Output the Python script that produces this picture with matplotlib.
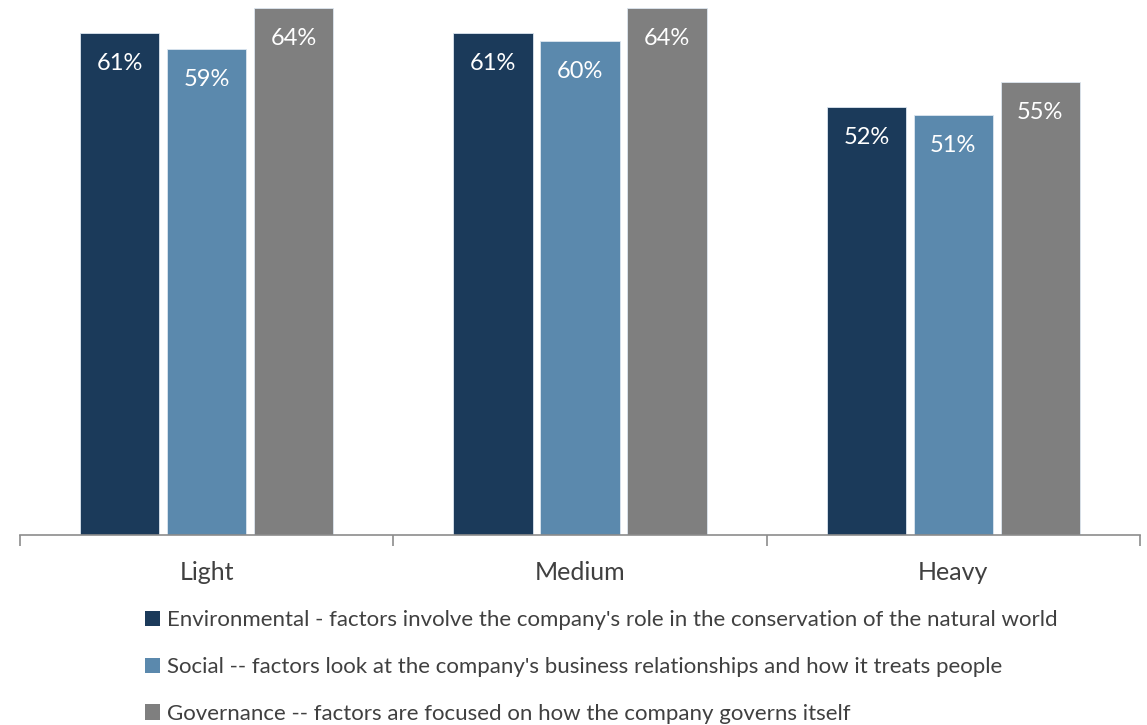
import matplotlib.pyplot as plt
import numpy as np

plt.rcParams['font.family'] = ['Lato', 'DejaVu Sans']

categories = ['Light', 'Medium', 'Heavy']
environmental = [61, 61, 52]
social = [59, 60, 51]
governance = [64, 64, 55]

series_labels = [
    "Environmental - factors involve the company's role in the conservation of the natural world",
    "Social -- factors look at the company's business relationships and how it treats people",
    "Governance -- factors are focused on how the company governs itself",
]
colors = ['#1b3a5a', '#5b89ad', '#7f7f7f']

x = np.arange(len(categories))
width = 0.212
step = 0.233

fig = plt.figure(figsize=(11.47, 7.25), dpi=100)
ax = fig.add_axes([0.0174, 0.262, 0.9765, 0.738])

bars = []
for i, (vals, col, lab) in enumerate(zip([environmental, social, governance], colors, series_labels)):
    rects = ax.bar(x + (i - 1) * step, vals, width, color=col, label=lab,
                   edgecolor='#dce6f0', linewidth=0.6)
    bars.append(rects)
    for rect, v in zip(rects, vals):
        ax.annotate('{}%'.format(v),
                    xy=(rect.get_x() + rect.get_width() / 2, rect.get_height()),
                    xytext=(0, -22), textcoords='offset points',
                    ha='center', va='center', color='white', fontsize=17)

ax.set_xlim(-0.5, 2.5)
ax.set_ylim(0, 65)
ax.set_yticks([])
for s in ['top', 'right', 'left']:
    ax.spines[s].set_visible(False)
ax.spines['bottom'].set_color('#8c8c8c')
ax.spines['bottom'].set_linewidth(1.2)

# category labels centred, tick marks on the boundaries
ax.set_xticks(x)
ax.set_xticklabels(categories, fontsize=18, color='#404040')
ax.tick_params(axis='x', which='major', length=0, pad=19)
ax.set_xticks([-0.5, 0.5, 1.5, 2.5], minor=True)
ax.tick_params(axis='x', which='minor', length=8, width=1.2, color='#8c8c8c')

leg = fig.legend(handles=bars, loc='upper left', bbox_to_anchor=(0.126, 0.158),
                 frameon=False, fontsize=16, labelcolor='#404040',
                 handlelength=0.7, handleheight=0.7, handletextpad=0.3,
                 labelspacing=1.2, borderaxespad=0, borderpad=0)
for h in leg.legend_handles:
    h.set_edgecolor('none')

fig.savefig('out.png', dpi=100)
